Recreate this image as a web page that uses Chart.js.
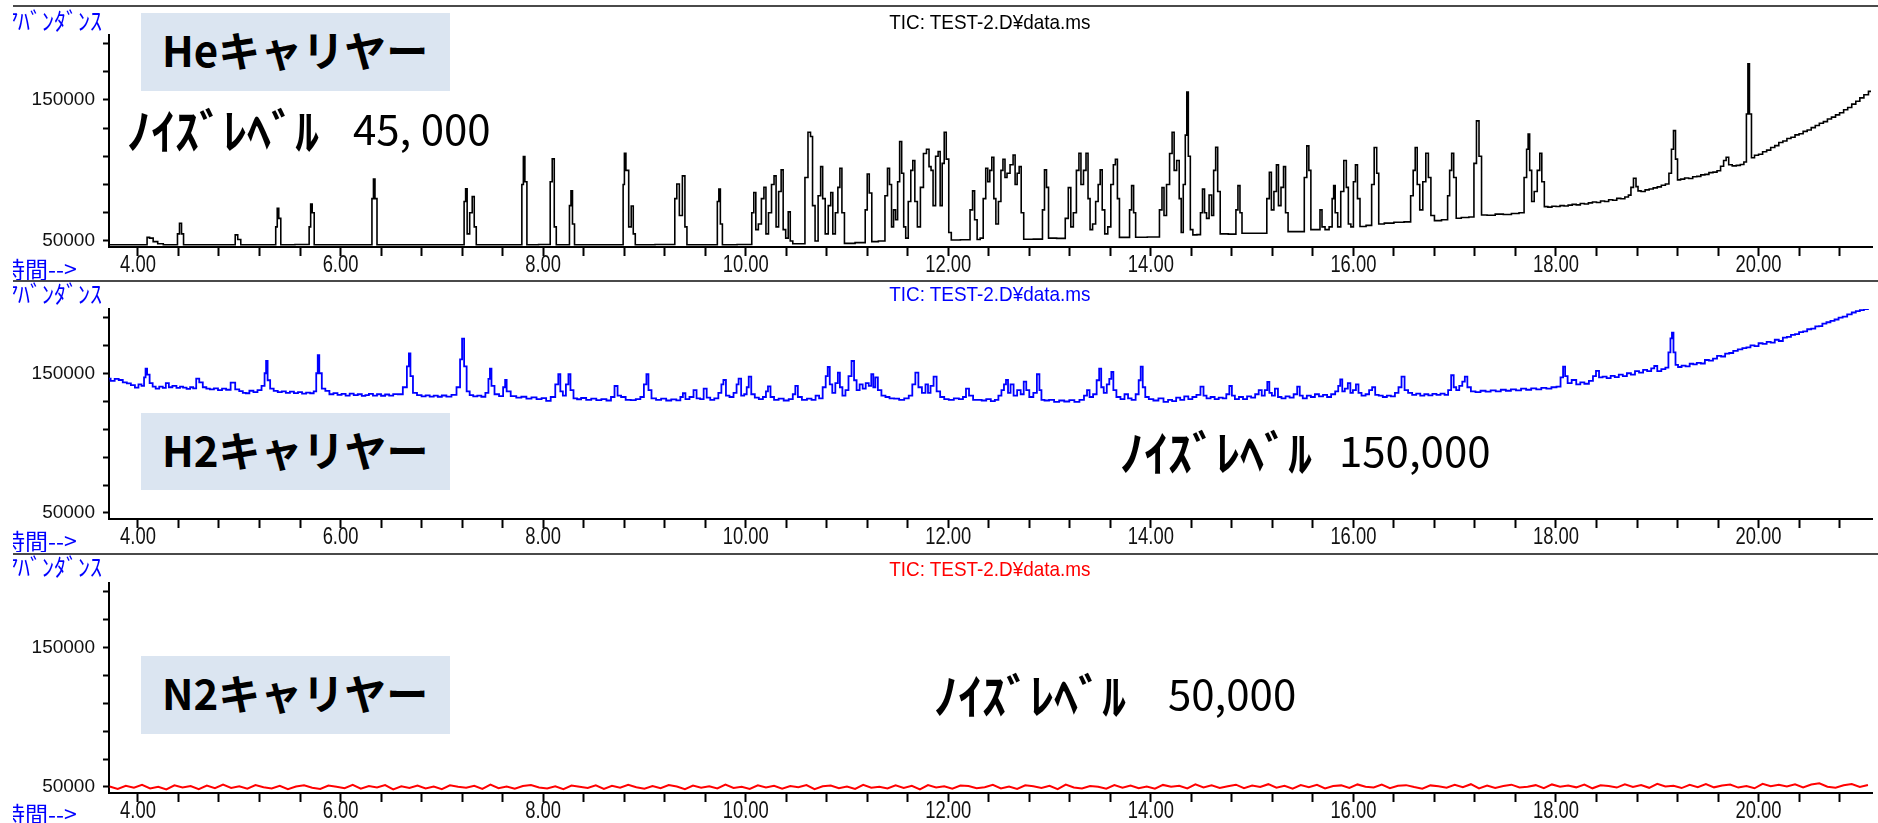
<!DOCTYPE html>
<html><head><meta charset="utf-8">
<script src="https://cdn.jsdelivr.net/npm/chart.js@4.4.0/dist/chart.umd.min.js"></script>
<style>
html,body{margin:0;padding:0;background:#fff;}
body{width:1878px;height:823px;overflow:hidden;position:relative;font-family:'Liberation Sans',sans-serif;}
canvas{position:absolute;left:0;}
.sep{position:absolute;left:13px;width:1865px;height:2px;background:#4a4a4a;}
.abund{position:absolute;left:13px;width:100px;height:24px;overflow:hidden;color:#0000ff;font:24px/24px 'Noto Sans CJK JP';white-space:nowrap;}
.abund span{display:inline-block;margin-left:-7px;}
.time{position:absolute;left:13px;width:80px;height:24px;overflow:hidden;color:#0000ff;font:23px/24px 'Noto Sans CJK JP';white-space:nowrap;}
.time span{display:inline-block;margin-left:-11px;}
.tic{position:absolute;left:0;width:1980px;text-align:center;white-space:nowrap;}
.tic span{display:inline-block;font:21px/20px 'Liberation Sans';transform:scaleX(0.9);}
.box{position:absolute;left:141px;width:309px;background:#dbe5f1;}
.boxtxt{position:absolute;left:21px;font:bold 42px/42px 'Noto Sans CJK JP';color:#000;white-space:nowrap;}
.kana{position:absolute;font:bold 48px/48px 'Noto Sans CJK JP';color:#000;white-space:nowrap;}
.num{position:absolute;font:42px/42px 'Noto Sans CJK JP';color:#000;white-space:nowrap;}
</style>
</head><body>
<canvas id="c1" width="1878" height="281" style="top:0px"></canvas>
<canvas id="c2" width="1878" height="273" style="top:281px"></canvas>
<canvas id="c3" width="1878" height="269" style="top:554px"></canvas>

<div class="abund" style="top:8px"><span>ｱﾊﾞﾝﾀﾞﾝｽ</span></div>
<div class="abund" style="top:281px"><span>ｱﾊﾞﾝﾀﾞﾝｽ</span></div>
<div class="abund" style="top:554px"><span>ｱﾊﾞﾝﾀﾞﾝｽ</span></div>
<div class="time" style="top:256px"><span>時間--&gt;</span></div>
<div class="time" style="top:528px"><span>時間--&gt;</span></div>
<div class="time" style="top:801px"><span>時間--&gt;</span></div>

<div class="tic" style="top:12px;color:#000"><span>TIC: TEST-2.D¥data.ms</span></div>
<div class="tic" style="top:284px;color:#0000ff"><span>TIC: TEST-2.D¥data.ms</span></div>
<div class="tic" style="top:559px;color:#ff0000"><span>TIC: TEST-2.D¥data.ms</span></div>

<div class="box" style="top:13px;height:78px"><div class="boxtxt" style="top:15px">Heキャリヤー</div></div>
<div class="box" style="top:413px;height:77px"><div class="boxtxt" style="top:15px">H2キャリヤー</div></div>
<div class="box" style="top:656px;height:78px"><div class="boxtxt" style="top:15px">N2キャリヤー</div></div>

<div class="kana" style="left:127px;top:104px">ﾉｲｽﾞﾚﾍﾞﾙ</div>
<div class="num" style="left:353px;top:106px">45, 000</div>
<div class="kana" style="left:1120px;top:426px">ﾉｲｽﾞﾚﾍﾞﾙ</div>
<div class="num" style="left:1339px;top:428px">150,000</div>
<div class="kana" style="left:934px;top:669px">ﾉｲｽﾞﾚﾍﾞﾙ</div>
<div class="num" style="left:1168px;top:671px">50,000</div>

<div class="sep" style="top:5px"></div>
<div class="sep" style="top:280px"></div>
<div class="sep" style="top:553px"></div>

<script>
// ---- axis ticks / labels ----
const xTickValues = [4.0,4.4,4.8,5.2,5.6,6.0,6.4,6.8,7.2,7.6,8.0,8.4,8.8,9.2,9.6,10.0,10.4,10.8,11.2,11.6,12.0,12.4,12.8,13.2,13.6,14.0,14.4,14.8,15.2,15.6,16.0,16.4,16.8,17.2,17.6,18.0,18.4,18.8,19.2,19.6,20.0,20.4,20.8];
const xTickLabels = ['4.00','6.00','8.00','10.00','12.00','14.00','16.00','18.00','20.00'];
const yTickValues = [50000,60000,70000,80000,90000,100000,110000,120000,130000,140000,150000,160000,170000,180000,190000];
const yTickLabels = ['50000','100000','150000'];

// ---- He carrier TIC (time [min], abundance) ----
const heTrace = [
[3.72,47300],[4.08,47300],[4.10,52500],[4.13,52000],[4.17,49500],[4.22,48000],[4.28,47300],
[4.38,47300],[4.40,55000],[4.42,62500],[4.44,55000],[4.46,47300],
[4.95,47300],[4.97,54300],[5.00,51000],[5.03,47300],
[5.35,47300],[5.37,60000],[5.38,73200],[5.40,66000],[5.42,47300],
[5.68,47500],[5.70,60000],[5.71,76200],[5.73,70000],[5.75,47300],
[6.30,47300],[6.32,80000],[6.33,93800],[6.35,80000],[6.37,47300],
[7.21,47300],[7.23,78000],[7.24,86900],[7.26,55000],[7.29,70000],[7.31,81400],[7.33,60000],[7.35,47300],
[7.78,47300],[7.80,90000],[7.81,109800],[7.83,92000],[7.85,47300],
[8.06,47500],[8.08,92000],[8.10,108200],[8.12,60000],[8.14,47300],
[8.25,47300],[8.27,75000],[8.28,85500],[8.30,62000],[8.32,47300],
[8.78,47300],[8.80,90000],[8.805,112200],[8.83,100000],[8.86,60000],[8.88,74800],[8.90,55000],[8.92,47300],
[9.29,47500],[9.31,80000],[9.33,90400],[9.36,68000],[9.39,96100],[9.41,60000],[9.43,47300],
[9.71,47300],[9.73,78000],[9.74,86700],[9.76,62000],[9.78,47300],
[10.05,47500],[10.07,70000],[10.09,84300],[10.11,58000],[10.14,62000],[10.17,80000],[10.19,88100],[10.21,55000],[10.24,70000],[10.27,90000],[10.29,96100],[10.31,60000],[10.34,85000],[10.36,100400],[10.38,58000],[10.41,52000],[10.43,70600],[10.45,50000],[10.48,48000],
[10.57,48000],[10.60,95000],[10.63,127100],[10.65,124000],[10.67,75000],[10.70,50000],[10.73,82000],[10.75,102700],[10.77,80000],[10.80,55000],[10.83,75000],[10.85,84300],[10.87,55000],[10.90,70000],[10.92,88000],[10.94,101500],[10.96,70000],[10.99,48300],
[11.17,48800],[11.19,72000],[11.21,97500],[11.23,84000],[11.26,49500],
[11.36,50000],[11.39,82000],[11.41,101500],[11.43,90000],[11.45,60000],[11.47,72000],[11.49,65000],[11.51,92000],[11.53,120500],[11.55,98000],[11.57,60000],[11.59,52000],[11.62,78000],[11.64,100000],[11.66,107000],[11.68,78000],[11.71,60000],[11.74,88000],[11.77,112000],[11.80,115000],[11.82,102700],[11.84,100000],[11.86,75000],[11.89,110000],[11.91,113400],[11.93,75000],[11.95,105000],[11.97,127100],[11.99,108000],[12.02,56000],[12.04,50700],
[12.20,50800],[12.23,72000],[12.25,85500],[12.27,65000],[12.30,51000],
[12.33,52000],[12.36,80000],[12.38,101500],[12.40,92000],[12.42,100000],[12.44,109300],[12.46,80000],[12.48,62000],[12.51,78000],[12.53,100000],[12.55,107900],[12.57,95000],[12.59,98000],[12.63,104000],[12.65,110900],[12.67,90000],[12.69,98000],[12.71,102700],[12.73,70000],[12.76,51200],
[12.92,51300],[12.94,72000],[12.96,100400],[12.98,88000],[13.00,52000],
[13.14,51800],[13.17,66000],[13.20,87800],[13.22,60000],[13.25,70000],[13.28,100000],[13.30,112200],[13.32,90000],[13.35,100000],[13.37,112200],[13.39,80000],[13.41,58000],[13.44,62000],[13.47,78000],[13.49,90000],[13.51,100400],[13.53,72000],[13.56,55000],[13.59,60000],[13.62,90000],[13.64,104000],[13.66,107900],[13.68,80000],[13.70,52500],
[13.78,52500],[13.80,72000],[13.82,89200],[13.84,70000],[13.86,52600],
[14.07,52800],[14.10,72000],[14.12,87800],[14.14,68000],[14.17,90000],[14.20,112000],[14.22,127100],[14.24,100000],[14.27,107000],[14.29,80000],[14.31,56000],[14.33,90000],[14.35,125000],[14.36,155500],[14.38,110000],[14.40,58000],[14.43,54300],
[14.48,54500],[14.50,70000],[14.52,86700],[14.54,70000],[14.56,66000],[14.59,82600],[14.61,68000],[14.63,100000],[14.65,116400],[14.67,85000],[14.70,55000],
[14.83,54800],[14.85,72000],[14.87,89200],[14.89,70000],[14.91,55400],
[15.13,55400],[15.16,80000],[15.18,98700],[15.20,72000],[15.23,85000],[15.25,103900],[15.27,75000],[15.30,88000],[15.32,102700],[15.34,70000],[15.37,56600],
[15.50,56600],[15.53,95000],[15.55,117400],[15.57,100000],[15.59,58000],[15.66,58000],[15.68,72000],[15.70,60000],[15.74,58000],
[15.78,60000],[15.80,80000],[15.81,89200],[15.83,70000],[15.86,60000],[15.89,85000],[15.92,107000],[15.94,88000],[15.96,62000],[15.99,60000],[16.01,92000],[16.03,103900],[16.05,80000],[16.08,60200],
[16.17,61000],[16.19,90000],[16.22,116200],[16.24,98000],[16.26,62000],
[16.35,62600],[16.45,63200],[16.55,63500],[16.58,82000],[16.60,100000],[16.62,116200],[16.64,90000],[16.67,72000],[16.70,92000],[16.73,112200],[16.75,95000],[16.78,68000],[16.82,64400],
[16.92,65000],[16.94,82000],[16.96,100000],[16.98,112200],[17.00,95000],[17.03,66100],
[17.10,66600],[17.18,67000],[17.20,105000],[17.23,135100],[17.25,110000],[17.28,68400],
[17.36,68200],[17.44,69000],[17.52,68700],[17.60,69500],[17.67,70000],[17.70,95000],[17.72,115000],[17.73,125700],[17.75,100000],[17.77,78000],[17.80,85000],[17.83,100000],[17.85,112200],[17.87,92000],[17.90,74300],
[17.94,74000],[17.98,74600],[18.02,74400],[18.06,75000],[18.10,74800],[18.14,75400],[18.18,75900],[18.22,75600],[18.26,76500],[18.30,76200],[18.34,77000],[18.38,77600],[18.42,77200],[18.46,78300],[18.50,78000],[18.54,79200],[18.58,78800],[18.62,80200],[18.66,79900],[18.70,81200],[18.73,82500],[18.75,88000],[18.78,94400],[18.80,88500],[18.82,85500],[18.86,85000],[18.90,86200],[18.94,86800],[18.98,87600],[19.02,88300],[19.06,89500],[19.10,90400],
[19.13,98000],[19.15,115000],[19.17,128200],[19.19,108000],[19.21,93300],[19.25,93800],[19.29,94600],[19.33,94300],[19.37,95500],[19.41,95800],[19.45,96800],[19.49,97200],[19.53,98400],[19.57,98800],[19.61,99800],[19.64,103000],[19.67,107000],[19.69,109300],[19.72,104000],[19.76,103200],[19.80,103600],[19.84,104200],[19.87,106000],
[19.89,140000],[19.90,175500],[19.92,140000],[19.94,109000],[19.98,110800],[20.02,111500],[20.06,113200],[20.10,114400],[20.14,116200],[20.18,117600],[20.22,119800],[20.26,120900],[20.30,122600],[20.34,123500],[20.38,125200],[20.42,126000],[20.46,127700],[20.50,128600],[20.54,130300],[20.58,131800],[20.62,133400],[20.66,134600],[20.70,136400],[20.74,137800],[20.78,139400],[20.82,140900],[20.86,143000],[20.90,144600],[20.94,147000],[20.98,149000],[21.02,151400],[21.06,153600],[21.11,156000]
];

// ---- H2 carrier TIC ----
const h2Trace = [
[3.71,146200],[3.75,144500],[3.79,146000],[3.83,145200],[3.87,143500],[3.91,142800],[3.95,141500],[3.99,139700],[4.02,142000],[4.05,141000],[4.07,147000],[4.08,153300],[4.10,149000],[4.13,143000],[4.16,140500],[4.19,139000],[4.23,140500],[4.26,139500],[4.29,142900],[4.32,140000],[4.36,141000],[4.40,139500],[4.43,140500],[4.46,139700],[4.50,138800],[4.53,140000],[4.56,139200],[4.59,146200],[4.62,143500],[4.66,140000],[4.69,139000],[4.73,138500],[4.77,139200],[4.81,138000],[4.85,139000],[4.89,138200],[4.94,143300],[4.98,138500],[5.02,137200],[5.05,136000],[5.08,135700],[5.12,137500],[5.16,136500],[5.20,138000],[5.24,141000],[5.26,150000],[5.27,158800],[5.29,145000],[5.32,139000],[5.36,137400],[5.40,136500],[5.44,137000],[5.48,136000],[5.52,136800],[5.56,135800],[5.60,136500],[5.64,135500],[5.68,136200],[5.72,135700],[5.75,137000],[5.77,150000],[5.78,162900],[5.80,150000],[5.83,139000],[5.87,137400],[5.91,135000],[5.95,135800],[5.99,134500],[6.03,135200],[6.07,134000],[6.11,135500],[6.15,134300],[6.19,135000],[6.23,133800],[6.26,134300],[6.30,135200],[6.34,134000],[6.38,135000],[6.42,133900],[6.46,134800],[6.50,134000],[6.54,135100],[6.59,135000],[6.64,140000],[6.67,155000],[6.68,164300],[6.70,148000],[6.73,136000],[6.78,134300],[6.82,133500],[6.86,134200],[6.90,133300],[6.94,134000],[6.98,133200],[7.02,134100],[7.07,133300],[7.12,134500],[7.17,140000],[7.19,160000],[7.21,174800],[7.23,155000],[7.26,137000],[7.29,134300],[7.33,133500],[7.37,134000],[7.41,133200],[7.45,136000],[7.47,146000],[7.48,153300],[7.50,141000],[7.54,135000],[7.59,133600],[7.62,140000],[7.63,145200],[7.65,137000],[7.71,133600],[7.76,132500],[7.81,133200],[7.86,131800],[7.91,132800],[7.96,131500],[8.01,132200],[8.05,130200],[8.10,133000],[8.14,142000],[8.16,149300],[8.18,137000],[8.21,134000],[8.24,142000],[8.26,149300],[8.28,138000],[8.32,132000],[8.35,131400],[8.40,132300],[8.45,131000],[8.50,131800],[8.55,130800],[8.60,131500],[8.65,130500],[8.69,133000],[8.72,140900],[8.75,134000],[8.79,133000],[8.84,131000],[8.89,130800],[8.94,131500],[8.98,133000],[9.01,142000],[9.03,149300],[9.05,138000],[9.09,132000],[9.14,131000],[9.19,131800],[9.24,130500],[9.29,131300],[9.34,130600],[9.37,133000],[9.39,135700],[9.42,131500],[9.47,133000],[9.50,138000],[9.53,132000],[9.57,131500],[9.60,139000],[9.63,132500],[9.67,131000],[9.71,132000],[9.75,136000],[9.77,142000],[9.79,145200],[9.82,134000],[9.86,133000],[9.90,136000],[9.92,142000],[9.94,146200],[9.97,134000],[10.00,135000],[10.02,140000],[10.04,147600],[10.07,135000],[10.11,132500],[10.15,131500],[10.19,133000],[10.21,137000],[10.23,140600],[10.26,133000],[10.30,131000],[10.35,131800],[10.40,130500],[10.45,131500],[10.48,135000],[10.50,141000],[10.53,133000],[10.58,131000],[10.63,131800],[10.67,131000],[10.71,134000],[10.74,132000],[10.78,140000],[10.80,148000],[10.82,154500],[10.84,142000],[10.87,136000],[10.90,143000],[10.92,150500],[10.94,140000],[10.97,134000],[11.00,138000],[11.03,148000],[11.06,158800],[11.08,145000],[11.11,138000],[11.14,142000],[11.17,139000],[11.20,143000],[11.23,141000],[11.25,149300],[11.27,140000],[11.29,147000],[11.32,138000],[11.36,134000],[11.40,133000],[11.44,132000],[11.49,131800],[11.54,131000],[11.59,132000],[11.63,134000],[11.66,142000],[11.69,150500],[11.72,140000],[11.76,136000],[11.79,142000],[11.81,136000],[11.84,141000],[11.87,147600],[11.90,137000],[11.94,133000],[11.98,131500],[12.03,131000],[12.08,132000],[12.13,131500],[12.16,133000],[12.19,139000],[12.22,134000],[12.27,131000],[12.31,131000],[12.35,130500],[12.40,131500],[12.44,130000],[12.48,131000],[12.51,134000],[12.54,138000],[12.56,142000],[12.58,145200],[12.60,136000],[12.63,142000],[12.66,134000],[12.70,138000],[12.73,135000],[12.76,144000],[12.78,138000],[12.82,133000],[12.86,136000],[12.89,149300],[12.91,138000],[12.93,131000],[12.97,130500],[13.02,131000],[13.07,129500],[13.12,130500],[13.17,129800],[13.22,130800],[13.27,129500],[13.32,131000],[13.36,134000],[13.38,138000],[13.41,133000],[13.45,135000],[13.48,145000],[13.50,153300],[13.52,140000],[13.55,136000],[13.58,142000],[13.60,146000],[13.62,150900],[13.64,138000],[13.68,133000],[13.72,131500],[13.76,135000],[13.79,132000],[13.83,131000],[13.87,135000],[13.89,145000],[13.91,154800],[13.93,140000],[13.96,133000],[14.00,131500],[14.05,130500],[14.10,132000],[14.15,129500],[14.19,131000],[14.23,130000],[14.27,132500],[14.31,131000],[14.35,133500],[14.39,131500],[14.43,133000],[14.47,134500],[14.51,140400],[14.53,134000],[14.57,132000],[14.61,133000],[14.65,131500],[14.69,132500],[14.73,132000],[14.76,135000],[14.79,140900],[14.81,134000],[14.85,131500],[14.89,133000],[14.93,131500],[14.97,133500],[15.01,132500],[15.05,135000],[15.08,138000],[15.11,134000],[15.14,138000],[15.16,143800],[15.18,136000],[15.21,134000],[15.24,139000],[15.27,133000],[15.31,132000],[15.35,133500],[15.39,132500],[15.43,135000],[15.46,140400],[15.48,134000],[15.52,132000],[15.56,134000],[15.60,133000],[15.64,135000],[15.68,133500],[15.72,134500],[15.76,133000],[15.80,135000],[15.84,137000],[15.86,141000],[15.88,145700],[15.90,137000],[15.93,139000],[15.96,143000],[15.98,136000],[16.01,138000],[16.04,142000],[16.06,136000],[16.10,134000],[16.14,135000],[16.17,138000],[16.20,140000],[16.23,134500],[16.27,134000],[16.31,133000],[16.35,134000],[16.39,133500],[16.43,136000],[16.46,140000],[16.49,147600],[16.52,138000],[16.56,136000],[16.60,134500],[16.64,135500],[16.68,134000],[16.72,135000],[16.76,134200],[16.80,135200],[16.84,134500],[16.88,135500],[16.92,134500],[16.95,138000],[16.98,148600],[17.00,140000],[17.03,138000],[17.06,141000],[17.09,144000],[17.11,147600],[17.14,140000],[17.18,137000],[17.23,136500],[17.28,137500],[17.33,136800],[17.38,137800],[17.43,137000],[17.48,138200],[17.53,137500],[17.58,138500],[17.63,137800],[17.68,139000],[17.73,138200],[17.78,139200],[17.83,138500],[17.88,139500],[17.93,139000],[17.98,140000],[18.03,140500],[18.06,147000],[18.08,154800],[18.10,148000],[18.13,143000],[18.18,145200],[18.22,142000],[18.26,143500],[18.30,142500],[18.35,144500],[18.38,148000],[18.41,151700],[18.44,147000],[18.48,147600],[18.52,146500],[18.56,148200],[18.60,147200],[18.64,149000],[18.68,148000],[18.72,150000],[18.76,149000],[18.80,151500],[18.84,150500],[18.88,152500],[18.92,151500],[18.96,153500],[18.98,155200],[19.02,151500],[19.06,153000],[19.10,154000],[19.12,165000],[19.14,175000],[19.15,179100],[19.17,165000],[19.19,156000],[19.22,154500],[19.26,155500],[19.30,155000],[19.34,156800],[19.37,156400],[19.41,157500],[19.45,157000],[19.49,159500],[19.53,159000],[19.57,160500],[19.61,162500],[19.65,162000],[19.69,164000],[19.73,164500],[19.77,166000],[19.82,167100],[19.86,168000],[19.90,168500],[19.94,170000],[19.98,169500],[20.02,171500],[20.06,171000],[20.10,172500],[20.14,172000],[20.18,174000],[20.22,173100],[20.26,175500],[20.30,176000],[20.34,177500],[20.38,178000],[20.42,179500],[20.46,180000],[20.50,181500],[20.54,182000],[20.58,183500],[20.61,183800],[20.65,185500],[20.69,186500],[20.73,187500],[20.77,188500],[20.81,189800],[20.85,190500],[20.90,192100],[20.94,193500],[20.98,194500],[21.02,195200],[21.06,196000],[21.10,196900]
];

// ---- N2 carrier TIC ----
const n2Trace = [
[3.72,50340],[3.80,48640],[3.88,50850],[3.96,49490],[4.04,51530],[4.12,48980],[4.20,50170],[4.28,48300],[4.36,51190],[4.44,49660],[4.52,50680],[4.60,48470],[4.68,51020],[4.76,49150],[4.84,51700],[4.92,49320],[5.00,50510],[5.08,48810],[5.16,51360],[5.24,49830],[5.32,48980],[5.40,50850],[5.48,48470],[5.56,50340],[5.64,51190],[5.72,49490],[5.80,48640],[5.88,51020],[5.96,50170],[6.04,49150],[6.12,51530],[6.20,48810],[6.28,50680],[6.36,49660],[6.44,51360],[6.52,48300],[6.60,50510],[6.68,49320],[6.76,51020],[6.84,48980],[6.92,50340],[7.00,48470],[7.08,51190],[7.16,50170],[7.24,49490],[7.32,50850],[7.40,48640],[7.48,51700],[7.56,49150],[7.64,50340],[7.72,48810],[7.80,50680],[7.88,51360],[7.96,49660],[8.04,48980],[8.12,50510],[8.20,48470],[8.28,51020],[8.36,50170],[8.44,49320],[8.52,51190],[8.60,48640],[8.68,50850],[8.76,49490],[8.84,51530],[8.92,49830],[9.00,48810],[9.08,50680],[9.16,49150],[9.24,51360],[9.32,50340],[9.40,48470],[9.48,51020],[9.56,49490],[9.64,50510],[9.72,48980],[9.80,51700],[9.88,49320],[9.96,50170],[10.04,48640],[10.12,51190],[10.20,49660],[10.28,50850],[10.36,48810],[10.44,50680],[10.52,49830],[10.60,51360],[10.68,48470],[10.76,50510],[10.84,51020],[10.92,49150],[11.00,50340],[11.08,48640],[11.16,51530],[11.24,49490],[11.32,50170],[11.40,48980],[11.48,51190],[11.56,49320],[11.64,50850],[11.72,48300],[11.80,51360],[11.88,49660],[11.96,50510],[12.04,48810],[12.12,51020],[12.20,50680],[12.28,49150],[12.36,49830],[12.44,51530],[12.52,48980],[12.60,50340],[12.68,48640],[12.76,51190],[12.84,50510],[12.92,49320],[13.00,50850],[13.08,48470],[13.16,51700],[13.24,49660],[13.32,48980],[13.40,50680],[13.48,50170],[13.56,48810],[13.64,51360],[13.72,49490],[13.80,51020],[13.88,49150],[13.96,50340],[14.04,48770],[14.12,51490],[14.20,50130],[14.28,50810],[14.36,48940],[14.44,51830],[14.52,49620],[14.60,51150],[14.68,49280],[14.76,50470],[14.84,51660],[14.92,49110],[15.00,50980],[15.08,49960],[15.16,52000],[15.24,49450],[15.32,50810],[15.40,48770],[15.48,51320],[15.56,49790],[15.64,51490],[15.72,48940],[15.80,50640],[15.88,51150],[15.96,49280],[16.04,51830],[16.12,50130],[16.20,49620],[16.28,51660],[16.36,49110],[16.44,50810],[16.52,51320],[16.60,49960],[16.68,48770],[16.76,51150],[16.84,50470],[16.92,49450],[17.00,51490],[17.08,49790],[17.16,52000],[17.24,48940],[17.32,50980],[17.40,49280],[17.48,50640],[17.56,51660],[17.64,49620],[17.72,50130],[17.80,51320],[17.88,49110],[17.96,51830],[18.04,50260],[18.12,51110],[18.20,49750],[18.28,51790],[18.36,49070],[18.44,51280],[18.52,50770],[18.60,49580],[18.68,51960],[18.76,50090],[18.84,51450],[18.92,49410],[19.00,52300],[19.08,50430],[19.16,50940],[19.24,49240],[19.32,51620],[19.40,49920],[19.48,52130],[19.56,49750],[19.64,51110],[19.72,51790],[19.80,49580],[19.88,50770],[19.96,49070],[20.04,52260],[20.12,50560],[20.20,51580],[20.28,50390],[20.36,51920],[20.44,49710],[20.52,51750],[20.60,52600],[20.68,50220],[20.76,49540],[20.84,51240],[20.92,52090],[21.00,50050],[21.08,51410]
];

const X_MIN = 3.714, X_MAX = 21.12, Y_MIN = 45700, Y_MAX = 196000;

function sameNum(a, b) { return Math.abs(a - b) < 1e-6; }

// draws the x tick labels in a condensed (horizontally scaled) face, positioned by the x scale
const narrowXLabels = {
  id: 'narrowXLabels',
  afterDraw(chart) {
    const ctx = chart.ctx, xs = chart.scales.x;
    ctx.save();
    ctx.fillStyle = '#111';
    ctx.font = "23px 'Liberation Sans'";
    ctx.textAlign = 'center';
    ctx.textBaseline = 'top';
    xTickLabels.forEach(l => {
      const px = xs.getPixelForValue(parseFloat(l));
      ctx.save();
      ctx.translate(px, chart.chartArea.bottom + 7);
      ctx.scale(0.8, 1);
      ctx.fillText(l, 0, 0);
      ctx.restore();
    });
    ctx.restore();
  }
};

function makeChart(id, trace, color, width, stepped, padTop, axisH) {
  return new Chart(document.getElementById(id), {
    type: 'line',
    data: { datasets: [{ data: trace.map(p => ({ x: p[0], y: p[1] })), borderColor: color, borderWidth: width, pointRadius: 0, tension: 0, stepped: stepped, fill: false }] },
    plugins: [narrowXLabels],
    options: {
      responsive: false, animation: false, events: [],
      layout: { padding: { left: 0, right: 6, top: padTop, bottom: 0 } },
      plugins: { legend: { display: false }, tooltip: { enabled: false }, title: { display: false } },
      scales: {
        x: {
          type: 'linear', min: X_MIN, max: X_MAX,
          afterFit(s) { s.height = axisH; },
          afterBuildTicks(s) { s.ticks = xTickValues.map(v => ({ value: v })); },
          grid: { drawOnChartArea: false, drawTicks: true, tickLength: 9, tickWidth: 2, tickColor: '#000' },
          border: { display: true, color: '#000', width: 2 },
          ticks: { autoSkip: false, maxRotation: 0, minRotation: 0, padding: 0, callback() { return ''; } }
        },
        y: {
          type: 'linear', min: Y_MIN, max: Y_MAX,
          afterFit(s) { s.width = 109; },
          afterBuildTicks(s) { s.ticks = yTickValues.map(v => ({ value: v })); },
          grid: { drawOnChartArea: false, drawTicks: true, tickLength: 6, tickWidth: 2, tickColor: '#000' },
          border: { display: true, color: '#000', width: 2 },
          ticks: {
            padding: 8, color: '#111',
            font: { family: "'Liberation Sans',sans-serif", size: 19 },
            callback(v) { const l = yTickLabels.find(s => sameNum(parseFloat(s), v)); return l || ''; }
          }
        }
      }
    }
  });
}

makeChart('c1', heTrace, '#000000', 1.6, 'middle', 35, 34);
makeChart('c2', h2Trace, '#0000ff', 1.8, 'middle', 28, 35);
makeChart('c3', n2Trace, '#ff0000', 2, false, 29, 30);
</script>
</body></html>
